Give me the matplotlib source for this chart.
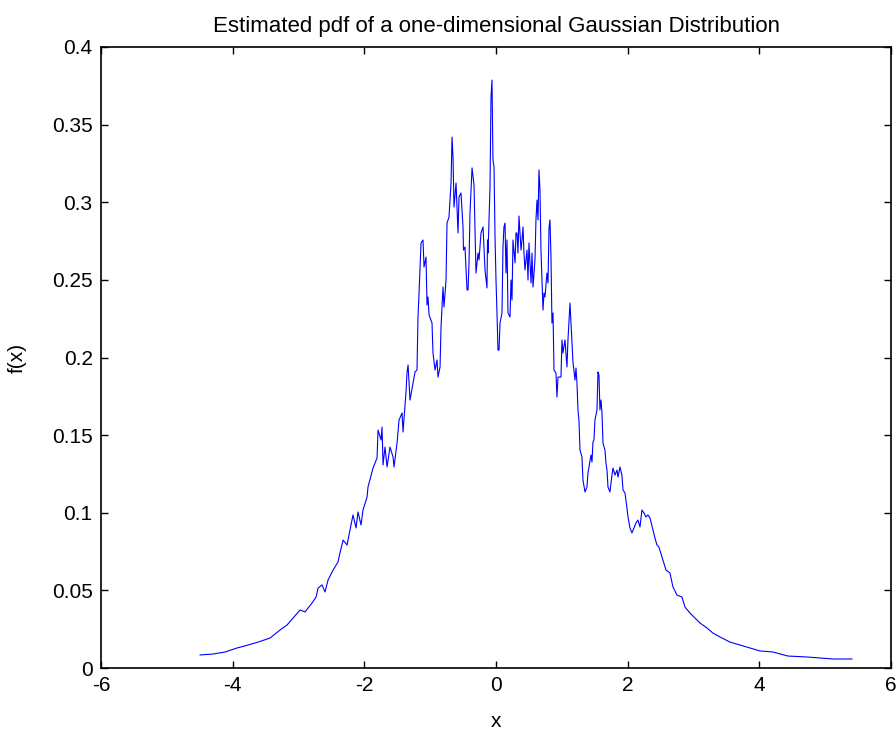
import numpy as np
import matplotlib
matplotlib.use('Agg')
import matplotlib.pyplot as plt

# estimated density, traced left to right
x_vals = [-4.495, -4.298, -4.115, -3.933, -3.766, -3.614, -3.432, -3.280, -3.174, -3.083,
          -2.976, -2.901, -2.794, -2.733, -2.703, -2.642, -2.597, -2.551, -2.475, -2.399,
          -2.384, -2.323, -2.263, -2.217, -2.172, -2.126, -2.096, -2.050, -2.020, -1.959,
          -1.944, -1.883, -1.868, -1.807, -1.792, -1.746, -1.731, -1.716, -1.686, -1.655,
          -1.610, -1.564, -1.549, -1.503, -1.473, -1.427, -1.412, -1.367, -1.352, -1.336,
          -1.306, -1.230, -1.200, -1.185, -1.169, -1.139, -1.109, -1.093, -1.063, -1.048,
          -1.033, -1.017, -0.972, -0.957, -0.926, -0.896, -0.881, -0.850, -0.835, -0.805,
          -0.790, -0.759, -0.744, -0.714, -0.699, -0.683, -0.668, -0.653, -0.638, -0.607,
          -0.577, -0.562, -0.532, -0.501, -0.494, -0.471, -0.440, -0.425, -0.410, -0.395,
          -0.364, -0.334, -0.319, -0.304, -0.273, -0.258, -0.228, -0.197, -0.167, -0.137,
          -0.129, -0.121, -0.091, -0.076, -0.061, -0.046, -0.030, -0.015, 0.000, 0.015,
          0.030, 0.046, 0.061, 0.091, 0.106, 0.121, 0.137, 0.152, 0.167, 0.182,
          0.213, 0.228, 0.243, 0.258, 0.289, 0.304, 0.319, 0.334, 0.349, 0.380,
          0.395, 0.410, 0.425, 0.440, 0.471, 0.486, 0.501, 0.532, 0.547, 0.562,
          0.592, 0.607, 0.623, 0.638, 0.653, 0.668, 0.683, 0.714, 0.729, 0.744,
          0.774, 0.790, 0.805, 0.820, 0.835, 0.850, 0.866, 0.881, 0.911, 0.926,
          0.942, 0.987, 1.002, 1.017, 1.048, 1.078, 1.093, 1.124, 1.154, 1.169,
          1.200, 1.215, 1.230, 1.245, 1.260, 1.276, 1.306, 1.321, 1.352, 1.382,
          1.397, 1.443, 1.458, 1.473, 1.488, 1.503, 1.534, 1.549, 1.564, 1.579,
          1.595, 1.610, 1.625, 1.655, 1.670, 1.686, 1.701, 1.731, 1.762, 1.777,
          1.807, 1.838, 1.853, 1.883, 1.913, 1.929, 1.959, 1.989, 2.005, 2.035,
          2.065, 2.096, 2.126, 2.156, 2.187, 2.217, 2.248, 2.278, 2.308, 2.339,
          2.384, 2.415, 2.445, 2.475, 2.521, 2.582, 2.642, 2.688, 2.749, 2.825,
          2.870, 2.946, 3.022, 3.098, 3.204, 3.295, 3.402, 3.554, 3.705, 3.857,
          4.009, 4.207, 4.434, 4.723, 5.118, 5.406]
fx_vals = [0.0084, 0.0090, 0.0103, 0.0129, 0.0148, 0.0167, 0.0193, 0.0245, 0.0277, 0.0322,
           0.0374, 0.0361, 0.0419, 0.0457, 0.0515, 0.0535, 0.0490, 0.0567, 0.0631, 0.0683,
           0.0715, 0.0824, 0.0792, 0.0889, 0.0986, 0.0902, 0.1005, 0.0921, 0.1018, 0.1101,
           0.1166, 0.1262, 0.1288, 0.1353, 0.1533, 0.1469, 0.1552, 0.1308, 0.1423, 0.1295,
           0.1423, 0.1359, 0.1295, 0.1449, 0.1597, 0.1643, 0.1520, 0.1778, 0.1900, 0.1952,
           0.1726, 0.1907, 0.1919, 0.2261, 0.2415, 0.2738, 0.2757, 0.2583, 0.2647, 0.2338,
           0.2390, 0.2274, 0.2222, 0.2029, 0.1919, 0.1984, 0.1874, 0.1939, 0.2196, 0.2454,
           0.2325, 0.2499, 0.2866, 0.2905, 0.3014, 0.3124, 0.3420, 0.3291, 0.2969, 0.3124,
           0.2802, 0.3034, 0.3060, 0.2841, 0.2692, 0.2712, 0.2435, 0.2435, 0.2609, 0.2931,
           0.3221, 0.3111, 0.2841, 0.2544, 0.2673, 0.2628, 0.2802, 0.2841, 0.2564, 0.2448,
           0.2757, 0.2673, 0.3098, 0.3678, 0.3787, 0.3272, 0.3227, 0.2776, 0.2499, 0.2287,
           0.2048, 0.2048, 0.2222, 0.2287, 0.2712, 0.2841, 0.2866, 0.2544, 0.2757, 0.2287,
           0.2261, 0.2499, 0.2370, 0.2757, 0.2609, 0.2802, 0.2802, 0.2673, 0.2911, 0.2692,
           0.2757, 0.2841, 0.2673, 0.2564, 0.2692, 0.2499, 0.2738, 0.2480, 0.2673, 0.2454,
           0.2628, 0.2886, 0.3014, 0.2886, 0.3208, 0.3079, 0.2692, 0.2306, 0.2415, 0.2390,
           0.2544, 0.2480, 0.2834, 0.2886, 0.2647, 0.2222, 0.2287, 0.1919, 0.1900, 0.1746,
           0.1874, 0.1874, 0.2113, 0.2029, 0.2113, 0.1939, 0.2113, 0.2351, 0.2093, 0.1971,
           0.1855, 0.1932, 0.1836, 0.1662, 0.1597, 0.1404, 0.1359, 0.1211, 0.1134, 0.1166,
           0.1256, 0.1372, 0.1327, 0.1456, 0.1469, 0.1597, 0.1662, 0.1907, 0.1887, 0.1662,
           0.1726, 0.1643, 0.1449, 0.1404, 0.1320, 0.1275, 0.1166, 0.1134, 0.1243, 0.1288,
           0.1243, 0.1275, 0.1230, 0.1295, 0.1243, 0.1147, 0.1127, 0.1031, 0.0973, 0.0902,
           0.0870, 0.0902, 0.0934, 0.0953, 0.0908, 0.1018, 0.0998, 0.0973, 0.0986, 0.0966,
           0.0889, 0.0837, 0.0792, 0.0779, 0.0715, 0.0631, 0.0612, 0.0522, 0.0470, 0.0457,
           0.0393, 0.0354, 0.0322, 0.0290, 0.0258, 0.0225, 0.0200, 0.0167, 0.0148, 0.0129,
           0.0110, 0.0103, 0.0077, 0.0071, 0.0058, 0.0058]

x_ticks = [-6, -4, -2, 0, 2, 4, 6]
y_ticks = [0, 0.05, 0.1, 0.15, 0.2, 0.25, 0.3, 0.35, 0.4]
y_ticklabels = ['0', '0.05', '0.1', '0.15', '0.2', '0.25', '0.3', '0.35', '0.4']

plt.rcParams['font.family'] = ['Liberation Sans', 'DejaVu Sans']

fig = plt.figure(figsize=(8.96, 7.33), dpi=100)
ax = fig.add_axes([101 / 896, 65 / 733, 790 / 896, 621 / 733])

ax.plot(x_vals, fx_vals, color='#0000ff', lw=0.8)

ax.set_xlim(-6, 6)
ax.set_ylim(0, 0.4)
ax.set_xticks(x_ticks)
ax.set_xticklabels([str(t) for t in x_ticks])
ax.set_yticks(y_ticks)
ax.set_yticklabels(y_ticklabels)
ax.tick_params(direction='in', top=True, right=True, length=5, width=1.0,
               labelsize=15, pad=6)
for s in ax.spines.values():
    s.set_linewidth(1.2)

ax.set_title('Estimated pdf of a one-dimensional Gaussian Distribution', fontsize=16, pad=11)
ax.set_xlabel('x', fontsize=15, labelpad=12)
ax.set_ylabel('f(x)', fontsize=15, labelpad=18)

fig.savefig('out.png', dpi=100)
